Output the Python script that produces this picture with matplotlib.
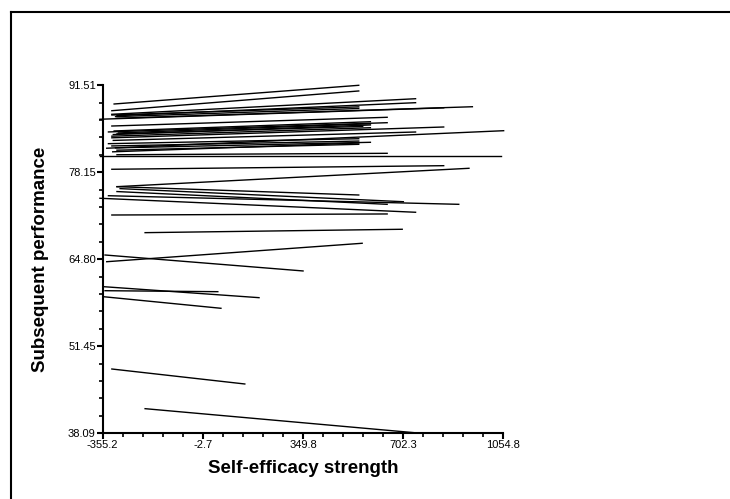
import numpy as np
import matplotlib
matplotlib.use("Agg")
import matplotlib.pyplot as plt
from matplotlib.lines import Line2D
from matplotlib.ticker import AutoMinorLocator

plt.rcParams['font.family'] = ['Liberation Sans', 'DejaVu Sans']

# segment end points: self-efficacy (x) and performance (y)
x_start = [-315, -323, -323, -305, -323, -310, -365, -305, -323, -335,
           -315, -300, -318, -305, -323, -323, -318, -341, -335, -323,
           -310, -305, -320, -305, -365, -323, -305,
           -305, -294, -305, -335, -365, -323, -206, -341, -347,
           -347, -353, -353, -323, -206]
y_start = [88.64, 87.61, 87.06, 86.85, 86.95, 86.70, 86.30, 86.45, 85.26, 84.35,
           84.50, 84.20, 83.95, 84.05, 83.70, 83.45, 83.05, 81.85, 82.55, 82.20,
           81.90, 81.55, 81.30, 80.85, 80.66, 78.62, 75.95,
           75.95, 75.65, 75.20, 74.56, 74.17, 71.60, 68.89, 64.43, 65.46,
           59.98, 60.60, 59.06, 47.96, 41.87]
x_end = [546, 546, 746, 746, 546, 546, 845, 946, 646, 646,
         587, 587, 587, 560, 587, 845, 746, 1056, 546, 546,
         587, 546, 546, 646, 1045, 845, 934,
         546, 703, 646, 898, 746, 646, 699, 558, 350,
         50, 195, 61, 145, 740]
y_end = [91.51, 90.64, 89.45, 88.84, 88.20, 87.95, 88.05, 88.22, 86.60, 85.77,
         85.92, 85.60, 85.42, 85.20, 85.00, 85.11, 84.34, 84.54, 83.31, 82.95,
         82.76, 82.45, 82.65, 81.07, 80.66, 79.17, 78.77,
         74.67, 73.64, 73.24, 73.24, 72.02, 71.76, 69.41, 67.26, 63.01,
         59.83, 58.91, 57.28, 45.66, 38.19]

x_ticks = [-355.2, -2.7, 349.8, 702.3, 1054.8]
y_ticks = [38.09, 51.45, 64.80, 78.15, 91.51]
y_tick_labels = ['38.09', '51.45', '64.80', '78.15', '91.51']

fig = plt.figure(figsize=(7.3, 4.99), dpi=100)
ax = fig.add_axes([102.7/730, 1 - 433.3/499, 400.6/730, 348/499])

for i in range(len(x_start)):
    ax.plot([x_start[i], x_end[i]], [y_start[i], y_end[i]], color='black', lw=1.0, clip_on=False)

ax.set_xlim(-355.2, 1054.8)
ax.set_ylim(38.09, 91.51)
ax.set_xticks(x_ticks)
ax.set_xticklabels([str(v) for v in x_ticks])
ax.set_yticks(y_ticks)
ax.set_yticklabels(y_tick_labels)
ax.xaxis.set_minor_locator(AutoMinorLocator(5))
ax.yaxis.set_minor_locator(AutoMinorLocator(5))

ax.spines['top'].set_visible(False)
ax.spines['right'].set_visible(False)
ax.spines['left'].set_linewidth(1.5)
ax.spines['bottom'].set_linewidth(1.5)
ax.tick_params(which='major', length=4, width=1.5, labelsize=8, pad=1)
ax.tick_params(which='minor', length=3, width=1.2)

ax.set_xlabel('Self-efficacy strength', fontsize=13.5, fontweight='bold', labelpad=7)
ax.set_ylabel('Subsequent performance', fontsize=13.5, fontweight='bold', labelpad=14)

# outer frame
fig.add_artist(Line2D([11/730, 11/730], [0, 1 - 12/499], color='black', lw=1.5))
fig.add_artist(Line2D([11/730, 1], [1 - 12/499, 1 - 12/499], color='black', lw=1.5))

fig.savefig('out.png', dpi=100)
